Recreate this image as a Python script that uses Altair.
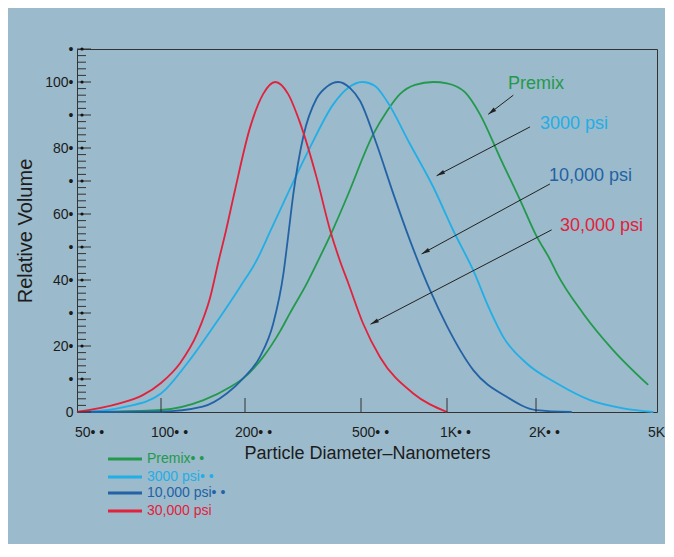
import math
import altair as alt
import pandas as pd

FONT = "Liberation Sans"

series_names = ["Premix", "3000 psi", "10,000 psi", "30,000 psi"]
series_colors = ["#23994c", "#22aee6", "#2262a5", "#e2213b"]
legend_labels = ["Premix• •", "3000 psi• •", "10,000 psi• •", "30,000 psi"]

premix_d = [50, 66, 100, 142, 177, 197, 231, 264, 285, 326, 362, 402, 447, 552, 617, 684, 773, 896, 1000, 1150, 1293, 1511, 1766, 2000, 2224, 2340, 2862, 3592, 4678]
premix_v = [0, 0.1, 0.6, 3.6, 7.6, 10.2, 16.7, 24.5, 29.9, 39.0, 47.1, 55.6, 65.0, 84.2, 91.2, 96.3, 99.1, 100, 99.6, 96.9, 90.2, 77.1, 64.3, 53.6, 46.2, 42.1, 29.8, 18.7, 8.2]

psi3000_d = [50, 60, 75, 100, 124, 154, 192, 220, 244, 271, 334, 402, 451, 505, 560, 615, 742, 896, 1050, 1227, 1398, 1551, 1861, 2340, 3010, 3875, 4860]
psi3000_v = [0, 0.3, 1.6, 5.6, 14.7, 25.8, 37.9, 46.2, 54.7, 63.4, 80.1, 93.3, 98.2, 100, 98.8, 94.3, 81.2, 68.1, 55.0, 42.9, 30.8, 22.7, 14.7, 8.7, 3.6, 1.1, 0]

psi10000_d = [50, 100, 141, 172, 197, 225, 250, 271, 281, 293, 317, 352, 382, 418, 458, 496, 567, 649, 742, 872, 1000, 1227, 1592, 2000, 2621]
psi10000_v = [0, 0.1, 1.6, 5.6, 10.2, 16.7, 26.8, 42.0, 53.0, 66.1, 83.5, 95.0, 98.6, 100, 98.2, 94.3, 81.2, 66.1, 52.0, 36.9, 26.0, 12.7, 4.6, 0.6, 0]

psi30000_d = [50, 71, 86, 100, 117, 135, 150, 161, 171, 183, 208, 231, 254, 281, 309, 352, 392, 423, 451, 508, 583, 760, 1000]
psi30000_v = [0, 2.6, 5.1, 8.8, 14.8, 23.9, 34.7, 45.9, 55.0, 66.2, 86.1, 96.4, 100, 96.4, 87.6, 71.1, 55.0, 45.9, 39.3, 26.9, 16.6, 5.7, 0]

# annotations
ann_text_d = [1608, 2061, 2205, 2399]
ann_text_v = [99.4, 87.3, 71.6, 56.5]
arrow_start_d = [1676, 1909, 2222, 2252]
arrow_start_v = [96.0, 86.4, 69.1, 55.2]
arrow_end_d = [1379, 920, 815, 540]
arrow_end_v = [90.2, 71.6, 47.9, 26.6]
arrow_angle = [232.8, 242.3, 241.4, 242.4]

x_ticks = [50, 100, 200, 500, 1000, 2000, 5000]
x_tick_labels = ["50• •", "100• •", "200• •", "500• •", "1K• •", "2K• •", "5K"]
x_inner_ticks = [100, 200, 500, 1000, 2000]
y_ticks = list(range(0, 111, 10))
y_minor = [v for v in range(0, 111, 2) if v % 10 != 0]
y_dots = list(range(10, 111, 10))

# ---- style / layout ----
W, H = 580, 363
x_range_px = [0, 84, 168, 284, 370, 459, 580]
x_label_dx = [-2, -10, -10, -9, -7, -7, -9]
legend_y = [410, 428, 444, 462]
TXT = "#1c1c1c"
LOG = "log(datum.d)/LN10"

rows = []
for name, ds, vs in zip(series_names,
                        [premix_d, psi3000_d, psi10000_d, psi30000_d],
                        [premix_v, psi3000_v, psi10000_v, psi30000_v]):
    for d, v in zip(ds, vs):
        rows.append({"series": name, "d": d, "v": v})
df = pd.DataFrame(rows)

xscale = alt.Scale(domain=[math.log10(t) for t in x_ticks], range=x_range_px, nice=False, zero=False)
yscale = alt.Scale(domain=[0, 110], nice=False, zero=False)
cscale = alt.Scale(domain=series_names, range=series_colors)

x_axis = alt.Axis(labels=False, ticks=False, domain=False, grid=False,
                  title="Particle Diameter–Nanometers", titleFont=FONT,
                  titleFontSize=18, titleFontWeight="normal", titleColor=TXT,
                  titlePadding=32)
y_axis = alt.Axis(values=y_ticks, ticks=False, domain=False, grid=False,
                  labelExpr="datum.value == 0 ? '0\u2002' : (datum.value % 20 == 0 ? datum.value + '•' : '•')",
                  labelFont=FONT, labelFontSize=14, labelColor=TXT, labelPadding=4,
                  title="Relative Volume", titleFont=FONT, titleFontSize=20,
                  titleFontWeight="normal", titleColor=TXT, titlePadding=9)
X = alt.X("ld:Q", scale=xscale, axis=x_axis)
Y = alt.Y("v:Q", scale=yscale, axis=y_axis)

lines = alt.Chart(df).transform_calculate(ld=LOG).mark_line(
    interpolate="monotone", strokeWidth=1.8
).encode(x=X, y=Y, color=alt.Color("series:N", scale=cscale, legend=None),
         detail="series:N")

# inward y ticks
ymin_df = pd.DataFrame({"v": y_minor})
ymaj_df = pd.DataFrame({"v": y_ticks})
ydot_df = pd.DataFrame({"v": y_dots})
y_minor_rules = alt.Chart(ymin_df).mark_rule(color="#333", strokeWidth=1).encode(
    y=Y, x=alt.value(0), x2=alt.value(9))
y_major_rules = alt.Chart(ymaj_df).mark_rule(color="#333", strokeWidth=1).encode(
    y=Y, x=alt.value(0), x2=alt.value(14))
y_dot_marks = alt.Chart(ydot_df).mark_point(filled=True, color="#111", size=10, opacity=1).encode(
    y=Y, x=alt.value(5))

# inward x ticks
xt_df = pd.DataFrame({"d": x_inner_ticks})
x_rules = alt.Chart(xt_df).transform_calculate(ld=LOG).mark_rule(color="#333", strokeWidth=1).encode(
    x=X, y=alt.value(H - 14), y2=alt.value(H))

# x tick labels
x_label_layers = []
for t, lab, dx in zip(x_ticks, x_tick_labels, x_label_dx):
    x_label_layers.append(
        alt.Chart(pd.DataFrame({"d": [t], "lab": [lab]})).transform_calculate(ld=LOG)
        .mark_text(align="left", baseline="middle", dx=dx, font=FONT, fontSize=14, color=TXT)
        .encode(x=X, y=alt.value(384), text="lab:N"))

# annotations
ann_df = pd.DataFrame({
    "series": series_names, "d": ann_text_d, "v": ann_text_v,
    "d1": arrow_start_d, "v1": arrow_start_v, "d2": arrow_end_d, "v2": arrow_end_v,
    "ang": arrow_angle,
})
ann_text = alt.Chart(ann_df).transform_calculate(ld=LOG).mark_text(
    align="left", baseline="middle", font=FONT, fontSize=18
).encode(x=X, y=Y, text="series:N", color=alt.Color("series:N", scale=cscale, legend=None))

arrow_lines = alt.Chart(ann_df).transform_calculate(
    ld="log(datum.d1)/LN10", ldb="log(datum.d2)/LN10", v="datum.v1"
).mark_rule(color="#222", strokeWidth=1).encode(
    x=X, x2="ldb:Q", y=Y, y2="v2:Q")

arrow_heads = alt.Chart(ann_df).transform_calculate(
    ld="log(datum.d2)/LN10", v="datum.v2"
).mark_point(shape="M0,0L-0.5,2L0.5,2Z", filled=True, color="#222", size=70, opacity=1).encode(
    x=X, y=Y, angle=alt.Angle("ang:Q", scale=None))

# legend
legend_layers = []
for name, lab, col, ly in zip(series_names, legend_labels, series_colors, legend_y):
    one = pd.DataFrame({"s": [name], "lab": [lab]})
    legend_layers.append(alt.Chart(one).mark_rule(color=col, strokeWidth=3).encode(
        x=alt.value(31), x2=alt.value(65), y=alt.value(ly)))
    legend_layers.append(alt.Chart(one).mark_text(
        align="left", baseline="middle", font=FONT, fontSize=14, color=col).encode(
        x=alt.value(70), y=alt.value(ly), text="lab:N"))

chart = alt.layer(
    lines, y_minor_rules, y_major_rules, y_dot_marks, x_rules,
    *x_label_layers, arrow_lines, arrow_heads, ann_text, *legend_layers
).properties(
    width=W, height=H,
    autosize=alt.AutoSizeParams(type="none"),
    padding={"left": 69, "top": 41, "right": 8, "bottom": 132},
    background="#9bbacb",
).configure_view(stroke="#333", strokeWidth=1)

chart.save("out.html", embed_options={"renderer": "svg", "actions": False})
